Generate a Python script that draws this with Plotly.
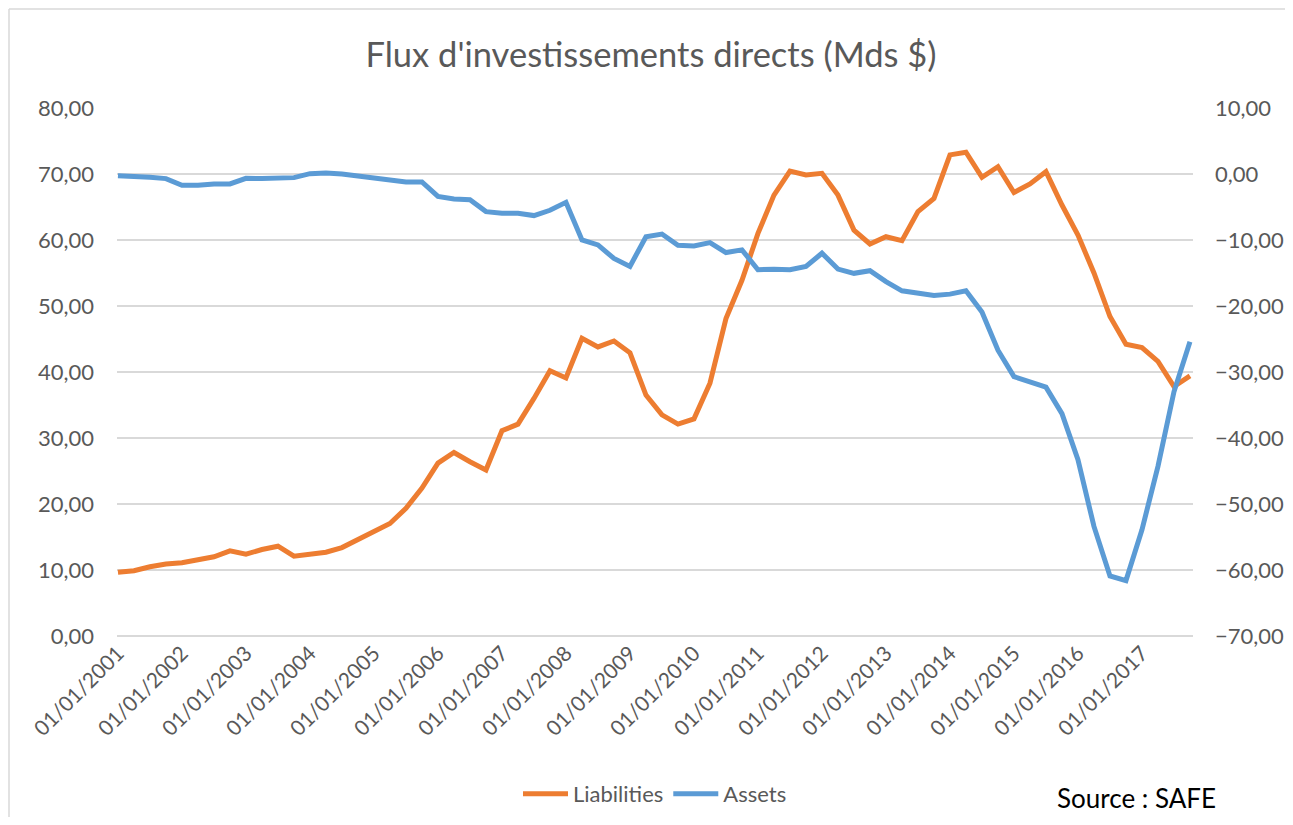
import plotly.graph_objects as go

# quarterly dates 2001Q1 .. 2017Q4
quarters = [f"01/{m:02d}/{y}" for y in range(2001, 2018) for m in (1, 4, 7, 10)]
year_labels = [f"01/01/{y}" for y in range(2001, 2018)]

# Liabilities (left axis, Mds $)
liabilities = [
    9.65, 9.9, 10.5, 10.9, 11.1, 11.6, 12.0, 12.9,
    12.4, 13.1, 13.6, 12.1, 12.4, 12.7, 13.4, 14.6,
    15.65, 17.05, 19.35, 22.4, 26.2, 27.8, 26.4, 25.15,
    31.1, 32.1, 36.0, 40.2, 39.1, 45.1, 43.8, 44.7,
    42.9, 36.5, 33.5, 32.1, 32.9, 38.3, 48.1, 53.9,
    61.0, 66.8, 70.45, 69.85, 70.1, 66.8, 61.5, 59.4,
    60.5, 59.9, 64.3, 66.3, 72.9, 73.3, 69.5, 71.1,
    67.2, 68.5, 70.35, 65.3, 60.75, 55.0, 48.4, 44.2,
    43.7, 41.6, 37.8, 39.4,
]

# Assets (right axis, Mds $)
assets = [
    -0.25, -0.3, -0.5, -0.7, -1.7, -1.7, -1.5, -1.5,
    -0.65, -0.7, -0.7, -0.55, 0.05, 0.15, 0.0, -0.3,
    -0.45, -0.8, -1.2, -1.2, -3.4, -3.8, -3.9, -5.7,
    -5.95, -5.95, -6.3, -5.5, -4.3, -10.0, -10.75, -12.8,
    -14.0, -9.5, -9.1, -10.8, -10.9, -10.4, -11.9, -11.5,
    -14.5, -14.45, -14.5, -14.0, -12.0, -14.4, -15.05, -14.65,
    -16.3, -17.7, -18.0, -18.4, -18.2, -17.7, -20.9, -26.7,
    -30.7, -31.5, -32.3, -36.3, -43.3, -53.4, -60.9, -61.6,
    -53.9, -44.3, -33.0, -25.4,
]

FONT = "Lato"
GREY = "#595959"
BORDER = "#d9d9d9"

# the page body has an 8px margin all round, so the figure is drawn 16px
# smaller than the window to avoid scrollbars
W, H = 1277, 809
L, T, PW, PH = 109, 100, 1076, 528

fig = go.Figure()
fig.add_trace(go.Scatter(x=quarters, y=liabilities, name="Liabilities", mode="lines",
                         line=dict(color="#ED7D31", width=5)))
fig.add_trace(go.Scatter(x=quarters, y=assets, name="Assets", mode="lines", yaxis="y2",
                         line=dict(color="#5B9BD5", width=5)))

fig.update_layout(
    width=W, height=H,
    margin=dict(l=L, r=W - L - PW, t=T, b=H - T - PH, autoexpand=False),
    paper_bgcolor="white", plot_bgcolor="white",
    separators=", ",
    font=dict(family=FONT, color=GREY),
    title=dict(text="Flux d'investissements directs (Mds $)", x=(643 - L) / PW,
               xanchor="center", xref="paper", y=1 - 47 / H, yanchor="middle",
               font=dict(size=34.5, color=GREY)),
    xaxis=dict(type="category", range=[-0.06, 67.19], tickmode="array",
               tickvals=year_labels, ticktext=year_labels, tickangle=-45,
               tickfont=dict(size=21, color=GREY), showgrid=False, showline=False,
               ticks="", automargin=False),
    yaxis=dict(range=[0, 80], dtick=10, tickformat=".2f", tickfont=dict(size=22, color=GREY),
               gridcolor=BORDER, gridwidth=1.5, zeroline=True, zerolinecolor=BORDER,
               zerolinewidth=1.5, ticks="", ticklabelstandoff=22, automargin=False),
    yaxis2=dict(range=[-70, 10], dtick=10, tickformat=".2f", overlaying="y", side="right",
                tickfont=dict(size=22, color=GREY), showgrid=False, zeroline=False,
                ticks="", ticklabelstandoff=21, automargin=False),
    legend=dict(orientation="h", x=(647 - L) / PW, xanchor="center",
                y=(T + PH - 786) / PH, yanchor="middle",
                font=dict(size=22, color=GREY), itemwidth=45, traceorder="normal"),
    annotations=[dict(text="Source : SAFE", xref="paper", yref="paper",
                      x=(1047 - L) / PW, xanchor="left", y=(T + PH - (H - 1)) / PH,
                      yanchor="bottom", showarrow=False,
                      font=dict(size=26, color="black", family=FONT))],
    shapes=[
        # chart-area frame: only top and left edges are visible in the window
        dict(type="line", xref="paper", yref="paper",
             x0=(1 - L) / PW, x1=(W - L) / PW, y0=1 + (T - 1) / PH, y1=1 + (T - 1) / PH,
             line=dict(color=BORDER, width=1.5), layer="below"),
        dict(type="line", xref="paper", yref="paper",
             x0=(1 - L) / PW, x1=(1 - L) / PW, y0=(T + PH - H) / PH, y1=1 + (T - 1) / PH,
             line=dict(color=BORDER, width=1.5), layer="below"),
    ],
)

fig.write_html("out.html")
